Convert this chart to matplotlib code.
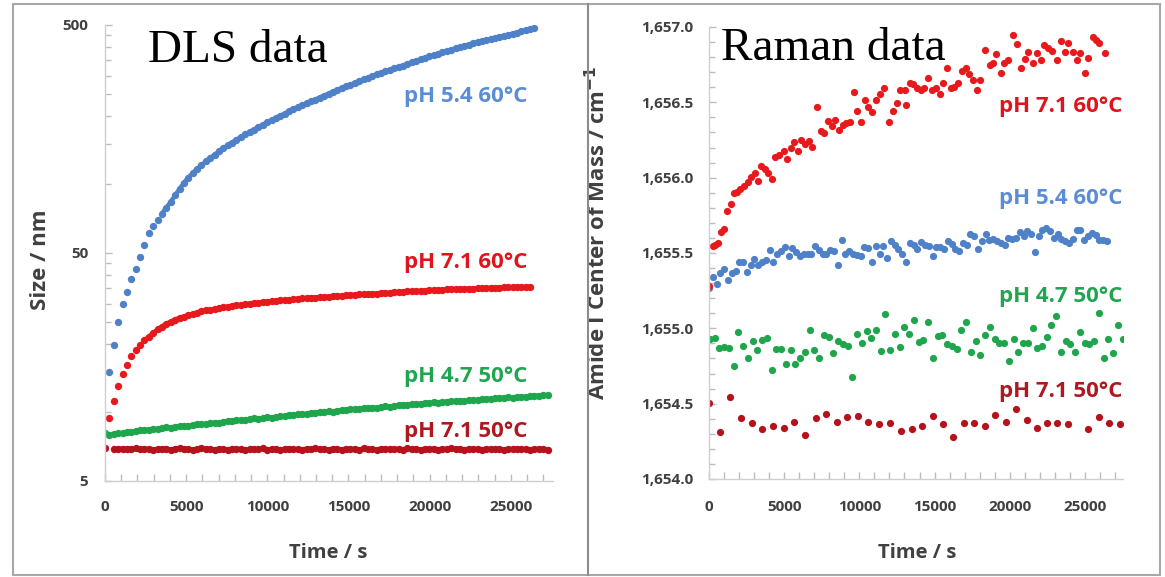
import numpy as np
import matplotlib
matplotlib.use("Agg")
import matplotlib.pyplot as plt
from matplotlib.ticker import FixedLocator, FuncFormatter, MultipleLocator
from matplotlib.patches import Rectangle
from matplotlib.lines import Line2D

plt.rcParams['font.family'] = ['Open Sans', 'DejaVu Sans']

# ---------------- DLS data (size / nm, sampled every 270 s) ----------------
dls_step = 270
dls_blue = [15.1, 19.8, 25.0, 29.8, 33.8, 38.3, 42.5, 47.9, 54.0, 61.0,
            66.0, 70.0, 74.5, 79.0, 83.8, 89.5, 95.5, 101.5, 107.0, 112.0,
            117.0, 121.0, 126.0, 130.5, 135.0, 139.5, 144.0, 148.3, 152.6, 157.0,
            161.3, 165.5, 170.0, 174.0, 178.5, 182.7, 187.0, 191.0, 195.5, 200.0,
            204.5, 209.0, 213.8, 218.5, 223.0, 227.3, 231.5, 235.6, 240.3, 245.0,
            250.0, 254.7, 259.5, 264.0, 268.8, 273.5, 278.5, 283.6, 288.6, 293.5,
            298.5, 303.5, 308.0, 313.2, 318.4, 323.5, 328.6, 332.0, 337.5, 343.0,
            348.2, 353.5, 358.8, 364.2, 369.5, 374.5, 379.5, 384.5, 389.5, 394.8,
            400.0, 405.5, 410.5, 415.2, 420.0, 424.6, 429.5, 434.2, 439.0, 443.5,
            448.3, 453.0, 458.2, 463.5, 468.7, 473.7, 478.5, 483.0]
dls_red60 = [9.4, 11.2, 13.0, 14.8, 16.2, 17.6, 18.8, 19.8, 20.7, 21.5,
             22.3, 23.1, 23.8, 24.5, 25.0, 25.5, 26.0, 26.3, 26.7, 27.0,
             27.4, 27.7, 28.0, 28.2, 28.5, 28.7, 28.9, 29.1, 29.3, 29.5,
             29.6, 29.8, 30.0, 30.1, 30.3, 30.4, 30.6, 30.7, 30.8, 31.0,
             31.1, 31.2, 31.4, 31.5, 31.6, 31.7, 31.8, 31.9, 32.0, 32.1,
             32.2, 32.3, 32.4, 32.5, 32.6, 32.7, 32.8, 32.9, 32.9, 33.0,
             33.1, 33.2, 33.3, 33.4, 33.5, 33.6, 33.7, 33.8, 33.9, 34.0,
             34.0, 34.1, 34.2, 34.3, 34.4, 34.4, 34.5, 34.6, 34.6, 34.7,
             34.8, 34.8, 34.9, 34.9, 35.0, 35.0, 35.1, 35.1, 35.2, 35.2,
             35.3, 35.3, 35.4, 35.4, 35.5, 35.5, 35.6]
dls_green = [8.10, 7.98, 8.02, 8.12, 8.08, 8.20, 8.22, 8.28, 8.35, 8.38,
             8.40, 8.48, 8.45, 8.55, 8.60, 8.58, 8.66, 8.70, 8.75, 8.72,
             8.82, 8.85, 8.90, 8.88, 8.96, 9.02, 9.00, 9.10, 9.12, 9.20,
             9.22, 9.28, 9.25, 9.35, 9.40, 9.38, 9.45, 9.50, 9.48, 9.55,
             9.62, 9.60, 9.70, 9.75, 9.80, 9.85, 9.82, 9.92, 9.98, 10.02,
             10.05, 10.10, 10.08, 10.18, 10.22, 10.25, 10.30, 10.35, 10.33, 10.42,
             10.45, 10.50, 10.48, 10.56, 10.62, 10.60, 10.68, 10.72, 10.78, 10.76,
             10.85, 10.88, 10.92, 10.98, 11.00, 11.05, 11.02, 11.10, 11.15, 11.18,
             11.20, 11.25, 11.22, 11.30, 11.35, 11.33, 11.40, 11.45, 11.48, 11.52,
             11.55, 11.58, 11.62, 11.60, 11.68, 11.72, 11.70, 11.78, 11.82, 11.85,
             11.92, 11.88]
# first point at t=0, then one missing sample, then every 270 s
dls_red50 = [6.95,
             6.93, 6.92, 6.94, 6.93, 6.92, 6.95, 6.91, 6.93, 6.90, 6.86,
             6.92, 6.88, 6.94, 6.87, 6.92, 6.95, 6.89, 6.93, 6.86, 6.92,
             6.95, 6.88, 6.91, 6.86, 6.93, 6.90, 6.87, 6.94, 6.89, 6.92,
             6.86, 6.90, 6.93, 6.88, 6.95, 6.87, 6.91, 6.89, 6.86, 6.92,
             6.94, 6.88, 6.90, 6.86, 6.93, 6.89, 6.95, 6.88, 6.91, 6.87,
             6.93, 6.90, 6.86, 6.94, 6.89, 6.92, 6.87, 6.95, 6.88, 6.91,
             6.86, 6.93, 6.90, 6.94, 6.88, 6.92, 6.87, 6.95, 6.89, 6.91,
             6.86, 6.93, 6.89, 6.94, 6.87, 6.92, 6.90, 6.95, 6.88, 6.91,
             6.87, 6.93, 6.89, 6.92, 6.86, 6.94, 6.90, 6.88, 6.93, 6.87,
             6.91, 6.89, 6.94, 6.88, 6.92, 6.86, 6.90, 6.93, 6.89, 6.87]

# ---------------- Raman data (amide I centre of mass / cm-1) ----------------
ram_red60_t = [0, 245, 416, 612, 808, 1003, 1224, 1468, 1640, 1884,
               2080, 2325, 2570, 2814, 3059, 3255, 3451, 3696, 3940, 4210,
               4405, 4650, 4968, 5213, 5458, 5653, 5898, 6143, 6388, 6632,
               6877, 7171, 7416, 7660, 7905, 8150, 8394, 8639, 8884, 9129,
               9373, 9618, 9863, 10108, 10352, 10597, 10842, 11087, 11380, 11625,
               11992, 12237, 12482, 12726, 13020, 13094, 13338, 13583, 13828, 14072,
               14317, 14562, 14807, 15101, 15345, 15590, 15835, 16079, 16324, 16569,
               16814, 17058, 17303, 17548, 17793, 18019, 18351, 18684, 18883, 19082,
               19395, 19614, 19880, 20193, 20459, 20725, 21011, 21230, 21523, 21789,
               22055, 22274, 22560, 22786, 23118, 23384, 23670, 23890, 24182, 24448,
               24668, 25000, 25219, 25512, 25731, 25951, 26330]
ram_red60 = [1655.284, 1655.545, 1655.553, 1655.565, 1655.638, 1655.658, 1655.780, 1655.822, 1655.895, 1655.907,
             1655.927, 1655.944, 1655.968, 1656.005, 1656.029, 1655.980, 1656.078, 1656.059, 1656.029, 1655.993,
             1656.139, 1656.152, 1656.176, 1656.127, 1656.200, 1656.237, 1656.176, 1656.249, 1656.225, 1656.244,
             1656.205, 1656.469, 1656.311, 1656.298, 1656.377, 1656.342, 1656.384, 1656.318, 1656.347, 1656.364,
             1656.372, 1656.567, 1656.445, 1656.372, 1656.518, 1656.469, 1656.433, 1656.518, 1656.555, 1656.592,
             1656.372, 1656.445, 1656.494, 1656.579, 1656.579, 1656.482, 1656.628, 1656.621, 1656.592, 1656.584,
             1656.597, 1656.660, 1656.579, 1656.592, 1656.555, 1656.628, 1656.726, 1656.597, 1656.604, 1656.628,
             1656.709, 1656.726, 1656.689, 1656.645, 1656.584, 1656.648, 1656.847, 1656.747, 1656.760, 1656.820,
             1656.696, 1656.758, 1656.780, 1656.946, 1656.887, 1656.725, 1656.785, 1656.835, 1656.758, 1656.825,
             1656.780, 1656.880, 1656.858, 1656.842, 1656.780, 1656.908, 1656.835, 1656.891, 1656.835, 1656.780,
             1656.825, 1656.696, 1656.792, 1656.931, 1656.913, 1656.895, 1656.829]
ram_blue_step = 252
ram_blue = [1655.271, 1655.340, 1655.296, 1655.369, 1655.394, 1655.320, 1655.364, 1655.381, 1655.438, 1655.443,
            1655.374, 1655.423, 1655.462, 1655.423, 1655.438, 1655.455, 1655.521, 1655.443, 1655.491, 1655.511,
            1655.540, 1655.479, 1655.535, 1655.504, 1655.479, 1655.491, 1655.496, 1655.491, 1655.545, 1655.521,
            1655.496, 1655.491, 1655.521, 1655.511, 1655.423, 1655.589, 1655.491, 1655.516, 1655.496, 1655.487,
            1655.479, 1655.540, 1655.535, 1655.443, 1655.545, 1655.496, 1655.545, 1655.467, 1655.577, 1655.553,
            1655.528, 1655.491, 1655.443, 1655.565, 1655.553, 1655.528, 1655.570, 1655.553, 1655.545, 1655.479,
            1655.540, 1655.540, 1655.528, 1655.577, 1655.560, 1655.528, 1655.516, 1655.565, 1655.553, 1655.626,
            1655.614, 1655.528, 1655.577, 1655.626, 1655.589, 1655.594, 1655.577, 1655.565, 1655.553, 1655.601,
            1655.594, 1655.601, 1655.638, 1655.614, 1655.643, 1655.626, 1655.504, 1655.614, 1655.650, 1655.667,
            1655.643, 1655.601, 1655.626, 1655.594, 1655.577, 1655.565, 1655.594, 1655.650, 1655.650, 1655.589,
            1655.614, 1655.633, 1655.619, 1655.589, 1655.589, 1655.577]
ram_green_t0 = 66
ram_green_step = 315.4
ram_green = [1654.927, 1654.933, 1654.867, 1654.878, 1654.867, 1654.750, 1654.978, 1654.882, 1654.801, 1654.918,
             1654.856, 1654.922, 1654.933, 1654.723, 1654.860, 1654.860, 1654.763, 1654.856, 1654.763, 1654.801,
             1654.845, 1654.989, 1654.856, 1654.801, 1654.956, 1654.940, 1654.834, 1654.918, 1654.896, 1654.882,
             1654.675, 1654.960, 1654.900, 1654.984, 1654.933, 1654.989, 1654.852, 1655.095, 1654.856, 1654.962,
             1654.874, 1655.006, 1654.962, 1655.055, 1654.911, 1654.922, 1655.044, 1654.801, 1654.949, 1654.956,
             1654.896, 1654.882, 1654.860, 1654.989, 1655.044, 1654.845, 1654.918, 1654.823, 1654.956, 1655.006,
             1654.927, 1654.905, 1654.900, 1654.785, 1654.927, 1654.845, 1654.900, 1654.900, 1655.004, 1654.867,
             1654.882, 1654.940, 1655.022, 1655.082, 1654.845, 1654.918, 1654.896, 1654.845, 1654.978, 1654.900,
             1654.896, 1654.918, 1655.099, 1654.801, 1654.927, 1654.834, 1655.022, 1654.927]
ram_red50_t = [0, 731, 1396, 2105, 2837, 3501, 4233, 4987, 5674, 6383,
               7114, 7779, 8488, 9198, 9929, 10594, 11326, 12035, 12766, 13475,
               14185, 14872, 15581, 16246, 16955, 17620, 18351, 19016, 19725, 20412,
               21121, 21786, 22495, 23160, 23870, 25222, 25931, 26618, 27328]
ram_red50 = [1654.502, 1654.314, 1654.546, 1654.403, 1654.370, 1654.330, 1654.354, 1654.341, 1654.380, 1654.292,
             1654.403, 1654.431, 1654.380, 1654.413, 1654.420, 1654.380, 1654.365, 1654.370, 1654.321, 1654.330,
             1654.354, 1654.418, 1654.365, 1654.281, 1654.370, 1654.370, 1654.354, 1654.425, 1654.380, 1654.465,
             1654.392, 1654.341, 1654.370, 1654.370, 1654.365, 1654.330, 1654.413, 1654.370, 1654.365]

labels = ['pH 5.4 60\u00b0C', 'pH 7.1 60\u00b0C', 'pH 4.7 50\u00b0C', 'pH 7.1 50\u00b0C']
c_blue, c_red, c_green, c_dred = '#4f81c9', '#e8191c', '#1fa64c', '#b5121b'
t_blue, t_red, t_green, t_dred = '#5a8dd6', '#e0141c', '#22a550', '#b01820'

W, H = 1165, 577
fig = plt.figure(figsize=(W / 100, H / 100), dpi=100)


def fx(x):
    return x / W


def fy(y):
    return 1 - y / H


tick_col = '#404040'
spine_col = '#cfcfcf'


def style(ax):
    for s in ['top', 'right']:
        ax.spines[s].set_visible(False)
    for s in ['left', 'bottom']:
        ax.spines[s].set_color(spine_col)
        ax.spines[s].set_linewidth(1.0)
    ax.tick_params(which='both', direction='in', color='#bdbdbd', width=1,
                   labelcolor=tick_col, labelsize=11)
    ax.tick_params(axis='x', which='both', length=5, pad=13.5)
    ax.tick_params(axis='y', which='major', length=5)
    ax.tick_params(axis='y', which='minor', length=4)
    for lab in ax.get_xticklabels() + ax.get_yticklabels():
        lab.set_fontweight('bold')
    ax.set_facecolor('none')


def dense_dots(ax, t, v, col, start):
    # the closely spaced markers merge into a band in the original
    ax.plot(t[start:], v[start:], '-', color=col, lw=3.2, solid_capstyle='round')
    ax.plot(t, v, 'o', color=col, ms=5.3, mew=0)


# ---------------- left: DLS ----------------
ax1 = fig.add_axes([fx(105), fy(481), fx(553 - 105), (481 - 25) / H])
tb = dls_step * np.arange(1, len(dls_blue) + 1)
tr = dls_step * np.arange(1, len(dls_red60) + 1)
tg = dls_step * np.arange(0, len(dls_green))
td = dls_step * np.concatenate([[0], np.arange(2, len(dls_red50) + 1)])
dense_dots(ax1, tb, dls_blue, c_blue, 12)
dense_dots(ax1, tr, dls_red60, c_red, 8)
dense_dots(ax1, tg, dls_green, c_green, 0)
dense_dots(ax1, td, dls_red50, c_dred, 1)
ax1.set_yscale('log')
ax1.set_ylim(5, 500)
ax1.set_xlim(0, 27600)
ax1.yaxis.set_major_locator(FixedLocator([5, 50, 500]))
ax1.yaxis.set_major_formatter(FuncFormatter(lambda v, p: '%d' % round(v)))
ax1.yaxis.set_minor_locator(FixedLocator([m * 5 for m in range(2, 10)] + [m * 50 for m in range(2, 10)]))
ax1.yaxis.set_minor_formatter(FuncFormatter(lambda v, p: ''))
ax1.xaxis.set_major_locator(MultipleLocator(5000))
ax1.xaxis.set_minor_locator(MultipleLocator(1000))
style(ax1)
ax1.tick_params(axis='y', pad=12)
ax1.set_xlabel('Time / s', fontsize=14.5, fontweight='bold', color=tick_col)
ax1.xaxis.set_label_coords(0.498, -0.136)
ax1.set_ylabel('Size / nm', fontsize=16, fontweight='bold', color=tick_col)
ax1.yaxis.set_label_coords(-0.12, 0.485)

# ---------------- right: Raman ----------------
ax2 = fig.add_axes([fx(709), fy(479), fx(1123 - 709), (479 - 27) / H])
tbr = ram_blue_step * np.arange(len(ram_blue))
tgr = ram_green_t0 + ram_green_step * np.arange(len(ram_green))
ms2 = 5.2
ax2.plot(tbr, ram_blue, 'o', color=c_blue, ms=ms2, mew=0)
ax2.plot(tgr, ram_green, 'o', color=c_green, ms=ms2, mew=0)
ax2.plot(ram_red50_t, ram_red50, 'o', color=c_dred, ms=ms2, mew=0)
ax2.plot(ram_red60_t, ram_red60, 'o', color=c_red, ms=ms2, mew=0)
ax2.set_ylim(1654.0, 1657.0)
ax2.set_xlim(0, 27530)
ax2.yaxis.set_major_locator(MultipleLocator(0.5))
ax2.yaxis.set_minor_locator(MultipleLocator(0.1))
ax2.yaxis.set_major_formatter(FuncFormatter(lambda v, p: '{:,.1f}'.format(v)))
ax2.xaxis.set_major_locator(MultipleLocator(5000))
ax2.xaxis.set_minor_locator(MultipleLocator(1000))
style(ax2)
ax2.tick_params(axis='y', pad=11.5)
ax2.tick_params(axis='x', pad=15)
ax2.set_xlabel('Time / s', fontsize=14.5, fontweight='bold', color=tick_col)
ax2.xaxis.set_label_coords(0.504, -0.1416)
ax2.set_ylabel('Amide I Center of Mass / cm$^{\\mathbf{-1}}$', fontsize=16,
               fontweight='bold', color=tick_col)
ax2.yaxis.set_label_coords(-0.239, 0.544)

# ---------------- series labels ----------------
lab_fs = 16
for txt, col, y in zip(labels, [t_blue, t_red, t_green, t_dred], [101.7, 268.3, 381.7, 436.7]):
    fig.text(fx(527), fy(y), txt, color=col, fontsize=lab_fs, fontweight='bold',
             ha='right', va='baseline')
for txt, col, y in zip([labels[1], labels[0], labels[2], labels[3]],
                       [t_red, t_blue, t_green, t_dred], [112.0, 204.3, 301.7, 396.5]):
    fig.text(fx(1122), fy(y), txt, color=col, fontsize=lab_fs, fontweight='bold',
             ha='right', va='baseline')

# ---------------- panel titles ----------------
fig.text(fx(148), fy(62), 'DLS data', family='Liberation Serif', fontsize=34,
         color='black', va='baseline')
fig.text(fx(721), fy(60), 'Raman data', family='Liberation Serif', fontsize=34,
         color='black', va='baseline')

# ---------------- panel frames ----------------
fig.add_artist(Rectangle((fx(13), fy(575)), fx(1160 - 13), (575 - 4) / H,
                         transform=fig.transFigure, fill=False, ec='#a8a8a8', lw=1.5))
fig.add_artist(Line2D([fx(588), fx(588)], [fy(575), fy(4)], transform=fig.transFigure,
                      color='#8c8c8c', lw=1.5))

fig.savefig('out.png', dpi=100)
